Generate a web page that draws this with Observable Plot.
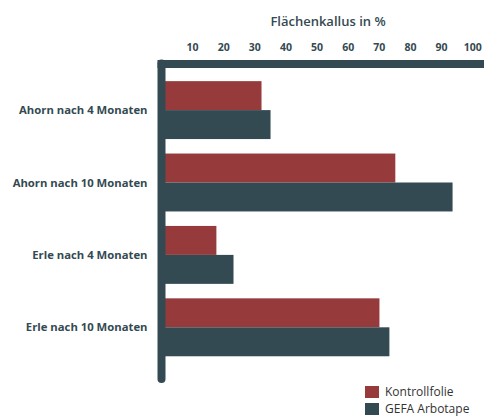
<!DOCTYPE html>
<html>
<head>
<meta charset="utf-8">
<script src="https://cdn.jsdelivr.net/npm/d3@7"></script>
<script src="https://cdn.jsdelivr.net/npm/@observablehq/plot@0.6"></script>
<style>
  html, body { margin: 0; padding: 0; background: #fff; }
  #wrap { position: relative; width: 484px; height: 417px; }
  #legend { position: absolute; left: 365px; top: 386px; }
  .lg-swatches { flex-direction: column !important; align-items: flex-start !important; min-height: 0 !important; gap: 5px; margin: 0 !important; }
  .lg-swatch { margin-right: 0 !important; line-height: 12px; }
  .lg-swatch svg { margin-right: 6px !important; }
</style>
</head>
<body>
<div id="wrap"><div id="chart"></div><div id="legend"></div></div>
<script>
const categories = ["Ahorn nach 4 Monaten", "Ahorn nach 10 Monaten", "Erle nach 4 Monaten", "Erle nach 10 Monaten"];
const series = ["Kontrollfolie", "GEFA Arbotape"];
const kontrollfolie = [32.3, 75.3, 17.8, 70.2];
const gefaArbotape = [35.2, 93.7, 23.3, 73.4];
const xTicks = [10, 20, 30, 40, 50, 60, 70, 80, 90, 100];
const title = "Flächenkallus in %";
const colors = ["#963a3b", "#344a52"];
const ink = "#344a52";
const font = "'Open Sans', Lato, sans-serif";

const table = [];
categories.forEach((c, i) => {
  table.push({cat: c, series: series[0], value: kontrollfolie[i]});
  table.push({cat: c, series: series[1], value: gefaArbotape[i]});
});

const yRange = [73.9, 363.5];
const step = (yRange[1] - yRange[0]) / 4;
const half = step * 0.8 / 2;

const chart = Plot.plot({
  width: 484,
  height: 385,
  marginLeft: 161,
  marginRight: 0,
  marginTop: 63.5,
  marginBottom: 6,
  style: {fontFamily: font, color: ink, background: "#fff"},
  x: {domain: [0, 103.8], axis: null},
  y: {domain: categories, range: yRange, paddingInner: 0.2, paddingOuter: 0.1, axis: null, round: false},
  color: {domain: series, range: colors},
  marks: [
    Plot.barX(table.filter(d => d.series === series[0]), {x: "value", y: "cat", fill: "series", insetBottom: half}),
    Plot.barX(table.filter(d => d.series === series[1]), {x: "value", y: "cat", fill: "series", insetTop: half}),
    Plot.frame({anchor: "top", stroke: ink, strokeWidth: 8}),
    Plot.ruleX([0], {stroke: ink, strokeWidth: 8, strokeLinecap: "round"}),
    Plot.axisX({anchor: "top", ticks: xTicks, tickFormat: d => String(d), tickSize: 0, tickPadding: 13, fontSize: 10.5, fontWeight: "bold", fill: ink, label: null}),
    Plot.axisY({anchor: "left", tickSize: 0, tickPadding: 14, fontSize: 11.3, fontWeight: "bold", fill: ink, label: null}),
    Plot.text([title], {frameAnchor: "top", dy: -38, dx: 5, lineAnchor: "bottom", fontSize: 13, fontWeight: 600, fill: ink})
  ]
});
document.getElementById("chart").appendChild(chart);

const legend = Plot.legend({
  color: {domain: series, range: colors},
  className: "lg",
  swatchWidth: 14,
  swatchHeight: 12,
  style: {fontFamily: font, fontSize: "12px", color: "#333"}
});
document.getElementById("legend").appendChild(legend);
</script>
</body>
</html>
